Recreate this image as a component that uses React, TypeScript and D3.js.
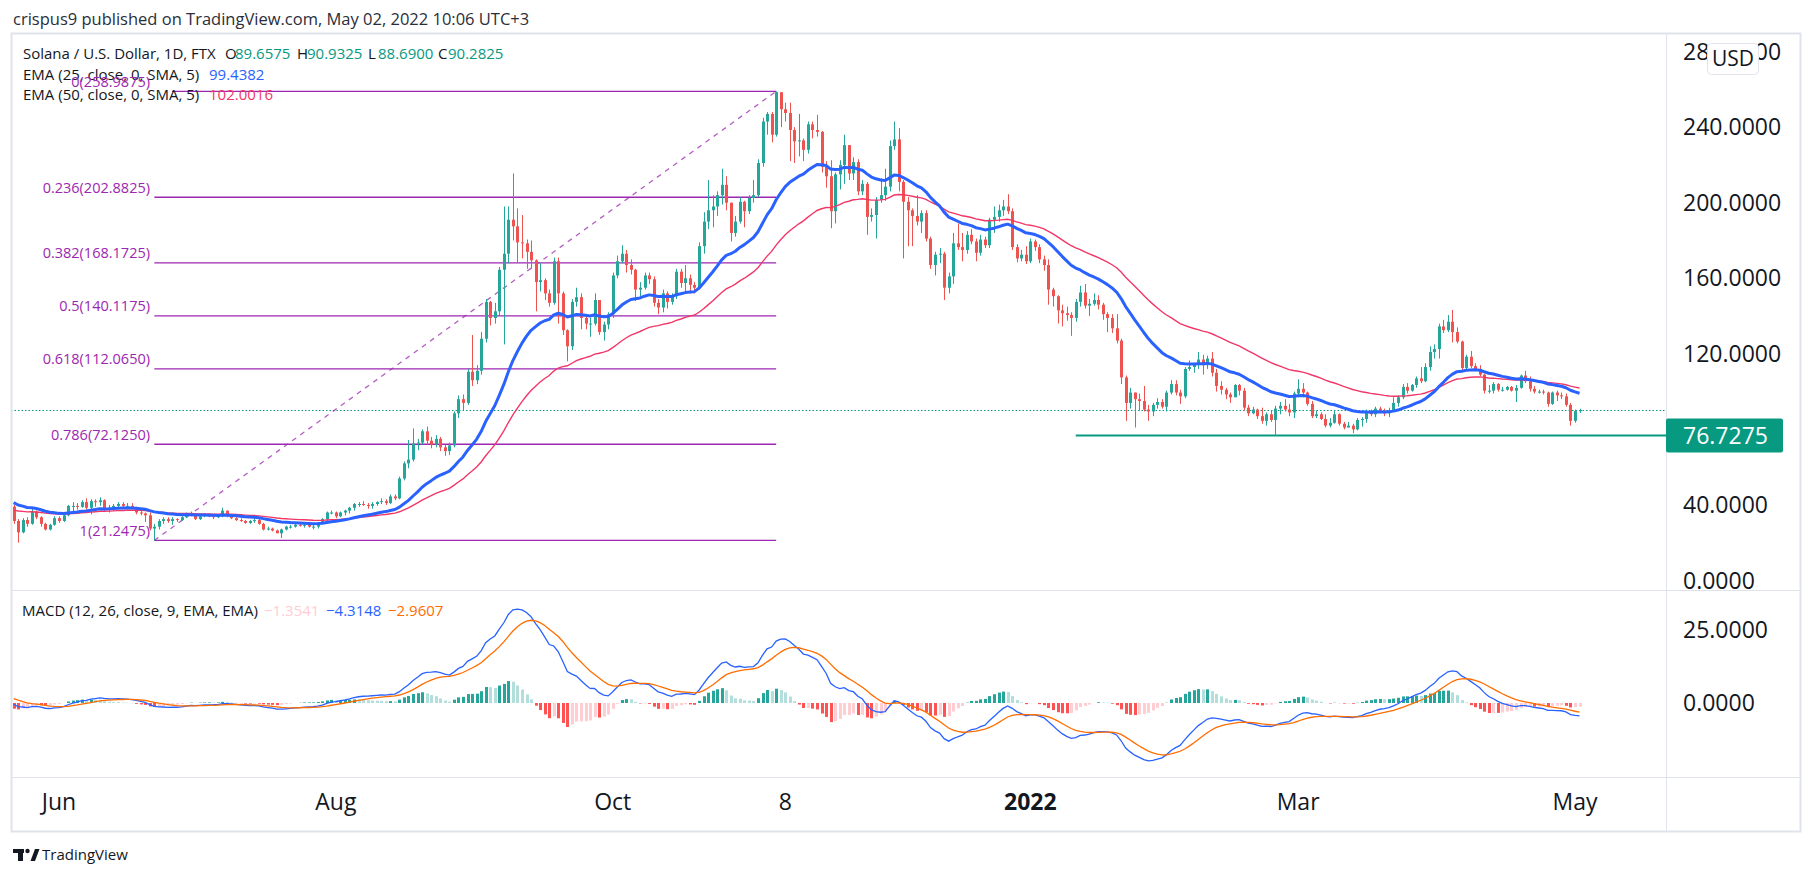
import React, { useEffect, useRef } from 'react';
import * as d3 from 'd3';

// Solana / USD daily candles (FTX). First bar 22 May 2021, one bar per day, last bar 2 May 2022.
// Open of every bar is the previous close (24h market).
const firstBarUtc = Date.UTC(2021, 4, 22);
const firstOpen = 39.1;

const closes: number[] = [
    // May 22-31
    31.5, 25.5, 32, 30, 36.5, 33.5, 30, 27, 29.5, 33,
    // Jun
    31.5, 34.5, 39.5, 39.5, 39, 41.5, 38.5, 42, 41.5, 42.5, 37.5, 38.5, 39.5, 40.5, 39.5, 39.5, 38.5, 36, 35.5, 34.5,
    27.5, 28.5, 31.5, 32.5, 31.5, 32.5, 32, 33.5, 35, 35.5,
    // Jul
    32.5, 34, 34.5, 34, 33.5, 34, 37, 34, 33, 32, 31.5, 30.5, 31.5, 32, 30, 27, 27.5, 26.5, 25, 27,
    28.5, 28.5, 29.5, 29, 29.5, 28.5, 28.5, 30.5, 32.5, 36, 36,
    // Aug
    34, 36, 37, 38.5, 40.5, 40.5, 40, 39.5, 40.5, 41.5, 42, 41, 44.5, 43.5, 54, 62, 64, 72.5, 73, 79,
    74, 72, 75, 70.5, 68.5, 71.5, 88.5, 96, 94, 110.5, 106,
    // Sep
    111, 128, 147.5, 139, 142.5, 164.5, 173, 191, 187.5, 179, 178.5, 174, 169.5, 158, 159, 152, 147, 169, 152, 132.5,
    124, 147.5, 150, 139, 136, 136, 148.5, 131.5, 135.5, 141,
    // Oct
    161.5, 169, 173, 167, 164.5, 154, 155, 161.5, 159.5, 147, 144.5, 152, 147.5, 150.5, 163.5, 157.5, 160, 156.5, 155, 177,
    190, 196, 198, 204, 209.5, 200, 184, 190, 200.5, 195.5, 202.5,
    // Nov
    204, 221, 243, 247, 236, 258.5, 249.5, 247.5, 238.5, 232.5, 233, 228, 241.5, 238.5, 237.5, 219, 214, 195.5, 215, 220,
    230.5, 215.5, 221.5, 206, 210, 192.5, 193.5, 201.5, 204, 208.5,
    // Dec
    230, 233.5, 211, 200.5, 196, 193, 190, 194.5, 181, 167, 172.5, 173, 155, 161, 178.5, 176.5, 175, 183, 179.5, 173.5,
    180.5, 177.5, 191, 192.5, 196, 198, 195.5, 176.5, 170.5, 172.5, 169,
    // Jan 2022
    179.5, 176.5, 170, 167, 154, 150.5, 143, 141.5, 140.5, 139, 147.5, 152.5, 145.5, 146.5, 148.5, 146, 141, 139, 133.5, 127,
    107.5, 94, 99.5, 96, 95, 90.5, 89.5, 93, 94.5, 92, 99.5,
    // Feb
    104, 99.5, 97.5, 112, 113, 114.5, 117, 114, 117.5, 110, 103, 101, 98.5, 97, 103.5, 100.5, 91.5, 88.5, 90.5, 87,
    84.5, 88, 85, 91, 92.5, 90.5, 89, 99,
    // Mar
    101.5, 99.5, 93.5, 87, 88, 85.5, 82, 83.5, 88, 83, 81, 82, 80, 85, 85.5, 89.5, 88, 91, 90, 88.5,
    90, 94, 97, 102.5, 100.5, 103.5, 107, 105.5, 113, 121, 122.5,
    // Apr
    134.5, 132.5, 137, 131.5, 126.5, 112.5, 118.5, 113.5, 112, 109, 100.5, 100.5, 104, 101, 101, 102.5, 100.5, 102, 108.5, 105.5,
    101.5, 100, 100, 99.5, 93.5, 99.5, 98, 97.5, 93, 84.5,
    // May 1-2
    89.6575, 90.2825,
];

const highs: number[] = [
    40, 32.5, 33, 33.5, 38, 37, 34, 30.5, 30, 34,
    34, 35, 40, 41.5, 41, 42.5, 43.5, 43, 43, 44, 43, 40, 40.5, 41.5, 41.5, 41, 41, 39, 37, 36,
    36, 30, 32.5, 33.5, 33.5, 33.5, 33, 34, 36, 36.5,
    35.5, 34.5, 35.5, 35.5, 34.5, 35, 38.5, 37, 34.5, 33.5, 33, 32, 32, 33, 32.5, 30.5, 28.5, 28, 27, 27.5,
    29, 29.5, 30, 30, 30, 31, 29.5, 31, 33, 36.5, 37,
    36.5, 36.5, 37.5, 39, 41, 41.5, 42, 41, 41.5, 42, 43.5, 43, 45.5, 45.5, 55, 63, 74.4, 80.5, 75, 80,
    81.5, 76, 77, 76, 72, 73, 89.5, 98, 98.5, 112, 130,
    114, 131.5, 149, 148, 147, 166, 198, 198, 215.5, 197, 193.5, 180.5, 180, 170, 168, 160, 154, 171, 171, 153,
    133, 149, 155, 152, 141, 139, 152, 148, 137, 142,
    163, 172, 177.5, 175, 170, 165, 158, 163, 163, 161, 149, 154, 153, 152, 165, 165, 167, 162, 158, 179,
    195, 212, 204, 206, 218, 214, 200, 193, 203, 201, 204,
    212, 223, 245, 248, 248, 258.9875, 258, 253, 253, 240, 247, 234, 243, 243, 246.5, 238, 222, 222.5, 216, 222.5,
    236, 226, 224, 223, 212, 211, 197, 203, 213, 218,
    233, 243, 239.5, 212, 203, 197, 204, 196, 196, 182, 174, 176, 174, 163, 184, 189, 184, 185, 186, 181,
    183, 182, 192, 198, 199, 201.5, 204.5, 197, 178, 175, 177,
    181, 180.5, 178, 172, 170, 155, 151, 146, 145, 142, 149, 156, 157, 149, 152, 151, 147, 142, 141, 141,
    128, 108.5, 102, 99.5, 99, 103, 93, 94, 96.5, 96, 100.5,
    106, 106, 101, 113, 116.5, 115, 121, 119.5, 119, 121, 112, 105.5, 102, 99.5, 104, 104, 102, 93, 92, 91,
    91.5, 89, 90, 92.5, 94.5, 96, 93.5, 100,
    106.5, 104.5, 100, 95, 90, 89, 88, 86, 90, 88.5, 84, 84, 83, 86, 86.5, 90.5, 90.5, 92, 92, 91,
    91.5, 97, 98, 104, 104.5, 104, 108, 113, 115, 124, 125,
    136, 138, 140.5, 143.2, 134, 127, 119.5, 121.5, 115, 114, 109.5, 103.5, 105, 104.5, 102.5, 103, 103, 103.5, 109, 111,
    108, 103, 101, 101, 100, 100, 100.5, 99.5, 99, 94,
    90.5, 90.9325,
];

const lows: number[] = [
    30, 20, 25, 28.5, 29.5, 32.5, 28.5, 26.5, 26.5, 29,
    30.5, 31, 34, 36, 37.5, 38.5, 37.5, 35, 39, 39.5, 37, 36, 37, 38.5, 39, 38.5, 38, 35, 34.5, 31,
    26.5, 21.2475, 27, 30, 30.5, 29.5, 31, 31.5, 33, 34,
    32, 32, 33.5, 33.5, 32.5, 33, 33.5, 33.5, 32.5, 31.5, 31, 30, 30, 30.5, 29.5, 26.5, 26.5, 26, 25, 22.5,
    26.5, 27.5, 28, 28.5, 28, 28, 27, 27.5, 30, 31.5, 35,
    33, 33.5, 34.5, 35.5, 37, 39, 39.5, 38, 38, 39.5, 40.5, 40, 40.5, 42.5, 43, 53, 59.4, 63, 69, 72,
    72, 70, 70.5, 68.5, 66, 66.5, 70.5, 86, 90, 93, 103,
    104, 109, 126, 135, 136, 140, 125, 168, 180, 168, 170.5, 165, 165, 142.5, 153, 148.5, 145, 146, 136, 130,
    116, 122, 145, 133, 133, 129, 135, 130, 127, 133,
    139, 160, 168, 163, 162, 148, 150, 154, 157, 145, 141, 142, 144, 146, 149, 155, 153, 152, 152, 154,
    173, 186, 187, 193, 199, 196, 179.5, 182, 189, 187, 194,
    200, 203, 219, 236, 232, 235, 240, 243, 222, 221, 224.5, 222, 226, 234, 235, 216, 208, 186.5, 189, 207,
    210, 212, 212, 204, 204, 183, 190, 181, 200, 201,
    206, 228, 206, 170.5, 177, 177, 188, 184, 179.5, 165, 161.5, 168, 148.5, 152, 157, 175, 169, 173, 178, 169,
    172, 176, 176, 184, 190, 193, 194, 175, 168.5, 169, 167.5,
    168, 174.5, 168, 164, 146, 145, 136, 134.5, 137.5, 129.5, 137, 145, 144, 140, 145.5, 143.5, 138, 131.5, 131, 125.5,
    104, 84.5, 91, 81, 90, 89.5, 84.5, 87, 91, 91, 89.5,
    98.5, 98, 93.5, 96.5, 111, 110, 112, 109, 112, 108, 100, 98.5, 96, 94, 97, 98, 90, 87, 88, 85.5,
    83, 82, 84, 76.7275, 88, 89.5, 87, 86,
    97, 97, 92.5, 86, 86, 85, 81, 81, 83, 82, 80, 81, 78, 79.5, 81.5, 83.5, 87, 86.5, 89, 87,
    86.5, 90, 92, 96, 99, 100, 102, 104.5, 105, 111, 117.5,
    117.5, 131, 131.5, 126, 125.5, 111, 111, 112.5, 111, 108, 99, 99, 99, 100, 100, 100.5, 100, 94.5, 101.5, 104.5,
    100, 99, 99, 98.5, 92, 93, 95, 96, 92, 82,
    83.5, 88.69,
];

// indicator values just before the first bar
const ema25Seed = 42;
const ema50Seed = 37.5;
const macdFastSeed = 37;
const macdSlowSeed = 37;
const macdSignalSeed = 2;

// fib retracement drawing
const fibRatios = ['0', '0.236', '0.382', '0.5', '0.618', '0.786', '1'];
const fibPrices = [258.9875, 202.8825, 168.1725, 140.1175, 112.065, 72.125, 21.2475];
const fibFromUtc = Date.UTC(2021, 5, 22);
const fibToUtc = Date.UTC(2021, 10, 6);

// horizontal support drawing
const supportPrice = 76.7275;
const supportFromUtc = Date.UTC(2022, 0, 11);

const lastClose = 90.2825;

// 80.0000 sits under the support label, so it is not listed
const priceTicks = [0, 40, 120, 160, 200, 240, 280];
const macdTicks = [0, 25];
const timeTickDates = [
    Date.UTC(2021, 5, 1), Date.UTC(2021, 7, 1), Date.UTC(2021, 9, 1), Date.UTC(2021, 10, 8),
    Date.UTC(2022, 0, 1), Date.UTC(2022, 2, 1), Date.UTC(2022, 4, 1),
];
const timeTickLabels = ['Jun', 'Aug', 'Oct', '8', '2022', 'Mar', 'May'];

const legendOhlc = ['89.6575', '90.9325', '88.6900', '90.2825'];
const legendEma25 = '99.4382';
const legendEma50 = '102.0016';
const legendMacd = ['\u22121.3541', '\u22124.3148', '\u22122.9607'];

const W = 1813;
const H = 876;
const FONT = '"Open Sans", "Noto Sans", sans-serif';

const UP = '#26a69a';
const DOWN = '#ef5350';
const TEAL = '#089981';
const FIB = '#9c27b0';
const GRID = '#e0e3eb';
const TEXT = '#131722';

interface Bar {
    t: Date;
    o: number;
    h: number;
    l: number;
    c: number;
}

function ema(values: number[], period: number, seed: number): number[] {
    const k = 2 / (period + 1);
    let prev = seed;
    return values.map((v) => (prev = prev + k * (v - prev)));
}

const App: React.FC = () => {
    const svgRef = useRef<SVGSVGElement>(null);

    useEffect(() => {
        document.body.style.margin = '0';
        if (!svgRef.current) return;
        const svg = d3.select(svgRef.current);
        svg.selectAll('*').remove();

        const bars: Bar[] = closes.map((c, i) => {
            const o = i === 0 ? firstOpen : closes[i - 1];
            return {
                t: new Date(firstBarUtc + i * 86400000),
                o,
                c,
                h: Math.max(highs[i], o, c),
                l: Math.min(lows[i], o, c),
            };
        });

        // layout
        const frame = { left: 11, right: 1800, top: 33, bottom: 831 };
        const axisX = 1666;
        const mainBottom = 590;
        const macdBottom = 777;

        // scales
        const x = d3
            .scaleUtc()
            .domain([new Date(Date.UTC(2021, 5, 1)), new Date(Date.UTC(2022, 4, 1))])
            .range([59, 1575]);
        const y = d3.scaleLinear().domain([0, 280]).range([580.5, 51.6]);
        const ym = d3.scaleLinear().domain([0, 25]).range([703, 630]);

        // indicators
        const ema25 = ema(closes, 25, ema25Seed);
        const ema50 = ema(closes, 50, ema50Seed);
        const fast = ema(closes, 12, macdFastSeed);
        const slow = ema(closes, 26, macdSlowSeed);
        const macd = fast.map((f, i) => f - slow[i]);
        const signal = ema(macd, 9, macdSignalSeed);
        const hist = macd.map((m, i) => m - signal[i]);

        svg.append('rect').attr('width', W).attr('height', H).attr('fill', '#ffffff');

        // header
        svg
            .append('text')
            .attr('x', 13)
            .attr('y', 25)
            .attr('font-family', FONT)
            .attr('font-size', 16.5)
            .attr('fill', '#2a2e39')
            .text('crispus9 published on TradingView.com, May 02, 2022 10:06 UTC+3');

        // clip paths
        const defs = svg.append('defs');
        defs
            .append('clipPath')
            .attr('id', 'clip-main')
            .append('rect')
            .attr('x', frame.left)
            .attr('y', frame.top)
            .attr('width', axisX - frame.left)
            .attr('height', mainBottom - frame.top);
        defs
            .append('clipPath')
            .attr('id', 'clip-macd')
            .append('rect')
            .attr('x', frame.left)
            .attr('y', mainBottom + 1)
            .attr('width', axisX - frame.left)
            .attr('height', macdBottom - mainBottom - 1);

        const main = svg.append('g').attr('clip-path', 'url(#clip-main)');

        // last price dotted line
        main
            .append('line')
            .attr('x1', frame.left)
            .attr('x2', axisX)
            .attr('y1', Math.round(y(lastClose)) + 0.5)
            .attr('y2', Math.round(y(lastClose)) + 0.5)
            .attr('stroke', TEAL)
            .attr('stroke-width', 1)
            .attr('stroke-dasharray', '1.5 2');

        // fib retracement
        const fx1 = x(new Date(fibFromUtc));
        const fx2 = x(new Date(fibToUtc));
        main
            .selectAll('.fib')
            .data(fibPrices)
            .enter()
            .append('line')
            .attr('x1', fx1)
            .attr('x2', fx2)
            .attr('y1', (d) => y(d))
            .attr('y2', (d) => y(d))
            .attr('stroke', FIB)
            .attr('stroke-width', 1.3);
        main
            .append('line')
            .attr('x1', fx1)
            .attr('y1', y(fibPrices[fibPrices.length - 1]))
            .attr('x2', fx2)
            .attr('y2', y(fibPrices[0]))
            .attr('stroke', FIB)
            .attr('stroke-opacity', 0.75)
            .attr('stroke-width', 1.3)
            .attr('stroke-dasharray', '5 5');

        // support line
        main
            .append('line')
            .attr('x1', x(new Date(supportFromUtc)))
            .attr('x2', axisX)
            .attr('y1', y(supportPrice))
            .attr('y2', y(supportPrice))
            .attr('stroke', TEAL)
            .attr('stroke-width', 2);

        // candles
        const candle = main
            .selectAll('.candle')
            .data(bars)
            .enter()
            .append('g')
            .attr('class', 'candle');
        candle
            .append('line')
            .attr('x1', (d) => Math.round(x(d.t)) + 0.5)
            .attr('x2', (d) => Math.round(x(d.t)) + 0.5)
            .attr('y1', (d) => y(d.h))
            .attr('y2', (d) => y(d.l))
            .attr('stroke', (d) => (d.c >= d.o ? UP : DOWN))
            .attr('stroke-width', 1);
        candle
            .append('rect')
            .attr('x', (d) => Math.round(x(d.t)) - 1)
            .attr('width', 3)
            .attr('y', (d) => y(Math.max(d.o, d.c)))
            .attr('height', (d) => Math.max(1, Math.abs(y(d.o) - y(d.c))))
            .attr('fill', (d) => (d.c >= d.o ? UP : DOWN));

        // EMA lines
        const emaLine = d3
            .line<number>()
            .x((_, i) => x(bars[i].t))
            .y((d) => y(d))
            .curve(d3.curveLinear);
        main
            .append('path')
            .datum(ema50)
            .attr('fill', 'none')
            .attr('stroke', '#f23668')
            .attr('stroke-width', 1.4)
            .attr('d', emaLine);
        main
            .append('path')
            .datum(ema25)
            .attr('fill', 'none')
            .attr('stroke', '#2962ff')
            .attr('stroke-width', 3)
            .attr('stroke-linejoin', 'round')
            .attr('d', emaLine);

        // MACD pane
        const mp = svg.append('g').attr('clip-path', 'url(#clip-macd)');
        mp.selectAll('.hist')
            .data(hist)
            .enter()
            .append('rect')
            .attr('x', (_, i) => Math.round(x(bars[i].t)) - 1)
            .attr('width', 3)
            .attr('y', (d) => Math.min(ym(0), ym(d)))
            .attr('height', (d) => Math.abs(ym(d) - ym(0)))
            .attr('fill', (d, i) => {
                const prev = i > 0 ? hist[i - 1] : d;
                if (d >= 0) return prev < d ? '#26a69a' : '#b2dfdb';
                return prev < d ? '#ffcdd2' : '#ff5252';
            });
        const macdLine = d3
            .line<number>()
            .x((_, i) => x(bars[i].t))
            .y((d) => ym(d));
        mp.append('path')
            .datum(macd)
            .attr('fill', 'none')
            .attr('stroke', '#2962ff')
            .attr('stroke-width', 1.3)
            .attr('d', macdLine);
        mp.append('path')
            .datum(signal)
            .attr('fill', 'none')
            .attr('stroke', '#ff6d00')
            .attr('stroke-width', 1.3)
            .attr('d', macdLine);

        // frame and separators
        const sep = svg.append('g').attr('stroke', GRID).attr('fill', 'none');
        sep.append('rect')
            .attr('x', frame.left + 0.5)
            .attr('y', frame.top + 0.5)
            .attr('width', frame.right - frame.left)
            .attr('height', frame.bottom - frame.top)
            .attr('stroke-width', 2);
        sep.append('line').attr('x1', axisX + 0.5).attr('x2', axisX + 0.5).attr('y1', frame.top).attr('y2', frame.bottom);
        sep.append('line').attr('x1', frame.left).attr('x2', frame.right).attr('y1', mainBottom + 0.5).attr('y2', mainBottom + 0.5);
        sep.append('line').attr('x1', frame.left).attr('x2', frame.right).attr('y1', macdBottom + 0.5).attr('y2', macdBottom + 0.5);

        // price axis
        const axisText = svg.append('g').attr('font-family', FONT).attr('font-size', 23).attr('fill', TEXT);
        axisText
            .selectAll('.pt')
            .data(priceTicks)
            .enter()
            .append('text')
            .attr('x', 1683)
            .attr('y', (d) => y(d) + 8)
            .text((d) => d.toFixed(4));
        axisText
            .selectAll('.mt')
            .data(macdTicks)
            .enter()
            .append('text')
            .attr('x', 1683)
            .attr('y', (d) => ym(d) + 8)
            .text((d) => d.toFixed(4));

        // USD badge
        svg.append('rect')
            .attr('x', 1707.5)
            .attr('y', 43.5)
            .attr('width', 51)
            .attr('height', 31)
            .attr('rx', 4)
            .attr('fill', '#ffffff')
            .attr('stroke', GRID);
        svg.append('text')
            .attr('x', 1733)
            .attr('y', 66)
            .attr('text-anchor', 'middle')
            .attr('font-family', FONT)
            .attr('font-size', 21)
            .attr('fill', TEXT)
            .text('USD');

        // support price label
        svg.append('rect')
            .attr('x', axisX)
            .attr('y', y(supportPrice) - 17)
            .attr('width', 117)
            .attr('height', 34)
            .attr('rx', 2)
            .attr('fill', TEAL);
        svg.append('text')
            .attr('x', 1683)
            .attr('y', y(supportPrice) + 8)
            .attr('font-family', FONT)
            .attr('font-size', 23)
            .attr('fill', '#ffffff')
            .text(supportPrice.toFixed(4));

        // time axis
        svg.append('g')
            .attr('font-family', FONT)
            .attr('font-size', 23)
            .attr('fill', TEXT)
            .selectAll('text')
            .data(timeTickDates)
            .enter()
            .append('text')
            .attr('x', (d) => x(new Date(d)))
            .attr('y', 810)
            .attr('text-anchor', 'middle')
            .attr('font-weight', (_, i) => (timeTickLabels[i] === '2022' ? 700 : 400))
            .text((_, i) => timeTickLabels[i]);

        // legend
        const lg = svg.append('g').attr('font-family', FONT).attr('font-size', 15).attr('fill', TEXT);
        lg.append('text').attr('x', 23).attr('y', 59).text('Solana / U.S. Dollar, 1D, FTX');
        const ohlcKeys = ['O', 'H', 'L', 'C'];
        const ohlcX = [225, 297, 368, 438];
        ohlcKeys.forEach((k, i) => {
            lg.append('text').attr('x', ohlcX[i]).attr('y', 59).text(k);
            lg.append('text').attr('x', ohlcX[i] + 10).attr('y', 59).attr('fill', TEAL).text(legendOhlc[i]);
        });
        lg.append('text').attr('x', 23).attr('y', 80).text('EMA (25, close, 0, SMA, 5)');
        lg.append('text').attr('x', 209).attr('y', 80).attr('fill', '#2962ff').text(legendEma25);
        lg.append('rect').attr('x', 20).attr('y', 87).attr('width', 152).attr('height', 17).attr('fill', '#ffffff');
        lg.append('text').attr('x', 23).attr('y', 100).text('EMA (50, close, 0, SMA, 5)');
        lg.append('text').attr('x', 209).attr('y', 100).attr('fill', '#f23668').text(legendEma50);

        // fib labels
        svg.append('g')
            .attr('font-family', FONT)
            .attr('font-size', 14.5)
            .attr('fill', FIB)
            .attr('text-anchor', 'end')
            .selectAll('text')
            .data(fibPrices)
            .enter()
            .append('text')
            .attr('x', 150)
            .attr('y', (d) => y(d) - 4.5)
            .text((d, i) => `${fibRatios[i]}(${d.toFixed(4)})`);

        // MACD legend
        const ml = svg.append('g').attr('font-family', FONT).attr('font-size', 15);
        ml.append('text').attr('x', 22).attr('y', 616).attr('fill', TEXT).text('MACD (12, 26, close, 9, EMA, EMA)');
        const mlColors = ['#ffcdd2', '#2962ff', '#ff6d00'];
        const mlX = [264, 326, 388];
        legendMacd.forEach((v, i) => {
            ml.append('text').attr('x', mlX[i]).attr('y', 616).attr('fill', mlColors[i]).text(v);
        });

        // TradingView mark
        const logo = svg.append('g').attr('fill', TEXT);
        logo.append('rect').attr('x', 13).attr('y', 849).attr('width', 11).attr('height', 4);
        logo.append('rect').attr('x', 18).attr('y', 849).attr('width', 5).attr('height', 12);
        logo.append('circle').attr('cx', 27.5).attr('cy', 851).attr('r', 2.2);
        logo.append('path').attr('d', 'M30.5,861 L35,849 L39.5,849 L35,861 Z');
        logo.append('text')
            .attr('x', 42)
            .attr('y', 860)
            .attr('font-family', FONT)
            .attr('font-size', 15)
            .text('TradingView');

        return () => {
            svg.selectAll('*').remove();
        };
    }, []);

    return <svg ref={svgRef} width={W} height={H} style={{ display: 'block' }} />;
};

export default App;
